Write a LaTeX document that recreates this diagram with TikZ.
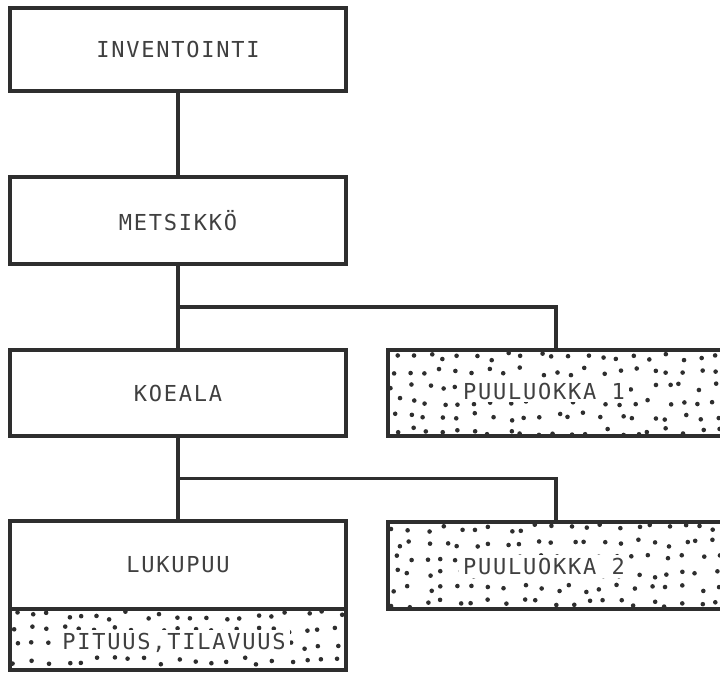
\documentclass[tikz,border=0pt]{standalone}
\usepackage{fontspec}
\newfontfamily\boxfont{DejaVu Sans Mono}[LetterSpace=8]
\usepackage{tikz}
\usetikzlibrary{calc,positioning}
\definecolor{ink}{HTML}{2E2E2E}
\definecolor{inktext}{HTML}{404040}

\begin{document}
\begin{tikzpicture}[x=1pt,y=-1pt,
	box/.style={draw=ink,line width=3.2pt,minimum width=336pt,inner sep=0pt,
		font=\boxfont\fontsize{22}{26}\selectfont,text=inktext},
	tag/.style={fill=white,inner xsep=4pt,inner ysep=3pt,
		font=\boxfont\fontsize{22}{26}\selectfont,text=inktext},
	link/.style={draw=ink,line width=3.2pt}]
	\useasboundingbox (0,0) rectangle (720,672);
	\clip (0,0) rectangle (720,672);

	\node[box,minimum height=83pt] (inv) at (178,49.5)  {INVENTOINTI};
	\node[box,minimum height=87pt] (met) at (178,220.5) {METSIKKÖ};
	\node[box,minimum height=86pt] (koe) at (178,393)   {KOEALA};
	\node[box,minimum height=86pt] (pl1) at (556,393)   {};
	\node[box,minimum height=88pt] (luk) at (178,565)   {LUKUPUU};
	\node[box,minimum height=61pt] (pit) at (178,639.5) {};
	\node[box,minimum height=87pt] (pl2) at (556,565.5) {};

	\pgfmathsetseed{4127}
	\foreach \b/\r in {pl1/5,pl2/5,pit/3} {
		\begin{scope}
			\clip (\b.north west) rectangle (\b.south east);
			\foreach \i in {0,...,20}
				\foreach \j in {0,...,\r}
					\fill[ink] ($(\b.north west)+({\i*16+9+5*rand},{\j*15+8+4*rand})$) circle (2.3pt);
		\end{scope}
	}

	\node[tag] (pl1t) at ([xshift=-12pt,yshift=2pt]pl1.center) {PUULUOKKA 1};
	\node[tag] (pl2t) at ([xshift=-12pt,yshift=-1pt]pl2.center) {PUULUOKKA 2};
	\node[tag] (pitt) at ([xshift=-4pt,yshift=-3pt]pit.center) {PITUUS,TILAVUUS};

	\coordinate (b1) at ($(met.south)!0.5!(koe.north)$);
	\coordinate (b2) at ($(koe.south)!0.5!(luk.north)$);

	\path[link] (inv.south) -- (met.north);
	\path[link] (met.south) -- (koe.north);
	\path[link] (b1) -| (pl1.north);
	\path[link] (koe.south) -- (luk.north);
	\path[link] (b2) -| (pl2.north);
\end{tikzpicture}
\end{document}
